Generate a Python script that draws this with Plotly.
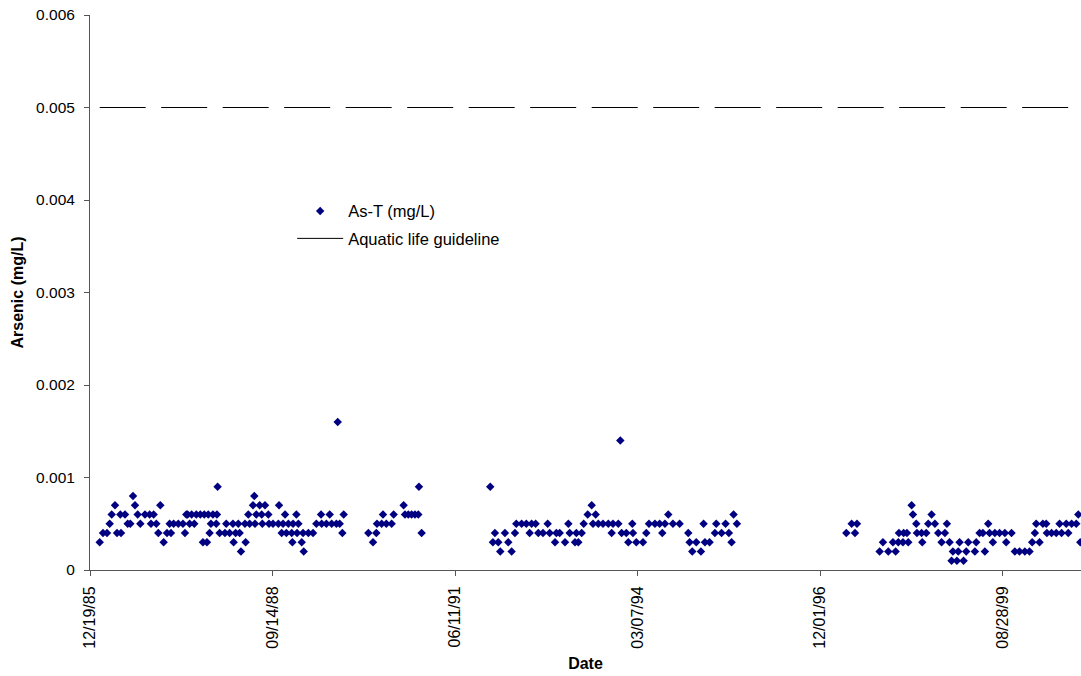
import datetime as dt
import plotly.graph_objects as go

# Total arsenic samples: sample date (decimal year) and concentration (mg/L)
sample_year = [
    # 1986 - 1989
    1986.11, 1986.16, 1986.22, 1986.26, 1986.29, 1986.34, 1986.37, 1986.42, 1986.43, 1986.49,
    1986.53, 1986.57, 1986.61, 1986.64, 1986.68, 1986.72, 1986.79, 1986.86, 1986.88, 1986.92,
    1986.96, 1986.99, 1987.02, 1987.07, 1987.12, 1987.16, 1987.18, 1987.22, 1987.29, 1987.36,
    1987.39, 1987.41, 1987.43, 1987.46, 1987.49, 1987.53, 1987.56, 1987.62, 1987.66, 1987.68,
    1987.72, 1987.74, 1987.76, 1987.78, 1987.81, 1987.86, 1987.87, 1987.88, 1987.91, 1987.99,
    1988.01, 1988.06, 1988.11, 1988.12, 1988.15, 1988.19, 1988.21, 1988.23, 1988.29, 1988.30,
    1988.34, 1988.36, 1988.41, 1988.43, 1988.44, 1988.46, 1988.51, 1988.54, 1988.55, 1988.59,
    1988.64, 1988.65, 1988.71, 1988.79, 1988.80, 1988.84, 1988.86, 1988.89, 1988.91, 1988.94,
    1988.99, 1989.00, 1989.01, 1989.06, 1989.07, 1989.09, 1989.14, 1989.16, 1989.17, 1989.24,
    1989.31, 1989.36, 1989.43, 1989.44, 1989.51, 1989.56, 1989.59, 1989.66, 1989.68, 1989.71,
    1989.75, 1989.77,
    # 1990
    1990.14, 1990.21, 1990.26, 1990.27, 1990.34, 1990.36, 1990.41, 1990.49, 1990.52, 1990.67,
    1990.69, 1990.74, 1990.79, 1990.84, 1990.89, 1990.90, 1990.94,
    # 1992 - 1995
    1991.97, 1992.01, 1992.04, 1992.09, 1992.12, 1992.19, 1992.24, 1992.29, 1992.34, 1992.36,
    1992.44, 1992.51, 1992.56, 1992.59, 1992.65, 1992.69, 1992.76, 1992.83, 1992.86, 1992.94,
    1992.96, 1993.01, 1993.09, 1993.14, 1993.16, 1993.24, 1993.26, 1993.29, 1993.34, 1993.37,
    1993.43, 1993.49, 1993.51, 1993.55, 1993.59, 1993.66, 1993.74, 1993.79, 1993.81, 1993.89,
    1993.92, 1993.94, 1994.01, 1994.04, 1994.10, 1994.11, 1994.16, 1994.26, 1994.31, 1994.35,
    1994.44, 1994.51, 1994.55, 1994.59, 1994.64, 1994.71, 1994.81, 1994.94, 1994.96, 1995.00,
    1995.06, 1995.13, 1995.17, 1995.19, 1995.26, 1995.34, 1995.36, 1995.44, 1995.50, 1995.55,
    1995.59, 1995.62, 1995.67,
    # 1997 - 2000
    1997.31, 1997.39, 1997.44, 1997.47,
    1997.81, 1997.86, 1997.94, 1998.01, 1998.05, 1998.09, 1998.10, 1998.16, 1998.17, 1998.22,
    1998.24, 1998.29, 1998.31, 1998.36, 1998.37, 1998.44, 1998.45, 1998.51, 1998.54, 1998.59,
    1998.64, 1998.69, 1998.74, 1998.79, 1998.82, 1998.86, 1998.89, 1998.91, 1998.97, 1998.99,
    1999.01, 1999.07, 1999.11, 1999.14, 1999.24, 1999.26, 1999.31, 1999.36, 1999.39, 1999.44,
    1999.46, 1999.51, 1999.54, 1999.61, 1999.69, 1999.71, 1999.79, 1999.84, 1999.91, 1999.99,
    2000.06, 2000.10, 2000.14, 2000.16, 2000.21, 2000.26, 2000.31, 2000.32, 2000.39, 2000.46,
    2000.51, 2000.54, 2000.61, 2000.64, 2000.69, 2000.76, 2000.79, 2000.82,
]

as_t = [
    # 1986 - 1989
    0.0003, 0.0004, 0.0004, 0.0005, 0.0006, 0.0007, 0.0004, 0.0006, 0.0004, 0.0006,
    0.0005, 0.0005, 0.0008, 0.0007, 0.0006, 0.0005, 0.0006, 0.0006, 0.0005, 0.0006,
    0.0005, 0.0004, 0.0007, 0.0003, 0.0004, 0.0005, 0.0004, 0.0005, 0.0005, 0.0005,
    0.0004, 0.0006, 0.0006, 0.0005, 0.0006, 0.0005, 0.0006, 0.0006, 0.0003, 0.0006,
    0.0003, 0.0006, 0.0004, 0.0005, 0.0006, 0.0005, 0.0006, 0.0009, 0.0004, 0.0004,
    0.0005, 0.0004, 0.0005, 0.0003, 0.0004, 0.0005, 0.0004, 0.0002, 0.0005, 0.0003,
    0.0006, 0.0005, 0.0007, 0.0008, 0.0005, 0.0006, 0.0007, 0.0006, 0.0005, 0.0007,
    0.0006, 0.0005, 0.0005, 0.0005, 0.0007, 0.0004, 0.0005, 0.0006, 0.0004, 0.0005,
    0.0004, 0.0003, 0.0005, 0.0006, 0.0004, 0.0005, 0.0003, 0.0004, 0.0002, 0.0004,
    0.0004, 0.0005, 0.0006, 0.0005, 0.0005, 0.0006, 0.0005, 0.0005, 0.0016, 0.0005,
    0.0004, 0.0006,
    # 1990
    0.0004, 0.0003, 0.0004, 0.0005, 0.0005, 0.0006, 0.0005, 0.0005, 0.0006, 0.0007,
    0.0006, 0.0006, 0.0006, 0.0006, 0.0006, 0.0009, 0.0004,
    # 1992 - 1995
    0.0009, 0.0003, 0.0004, 0.0003, 0.0002, 0.0004, 0.0003, 0.0002, 0.0004, 0.0005,
    0.0005, 0.0005, 0.0004, 0.0005, 0.0005, 0.0004, 0.0004, 0.0005, 0.0004, 0.0003,
    0.0004, 0.0004, 0.0003, 0.0005, 0.0004, 0.0003, 0.0004, 0.0003, 0.0004, 0.0005,
    0.0006, 0.0007, 0.0005, 0.0006, 0.0005, 0.0005, 0.0005, 0.0004, 0.0005, 0.0005,
    0.0014, 0.0004, 0.0004, 0.0003, 0.0005, 0.0004, 0.0003, 0.0003, 0.0004, 0.0005,
    0.0005, 0.0005, 0.0004, 0.0005, 0.0006, 0.0005, 0.0005, 0.0004, 0.0003, 0.0002,
    0.0003, 0.0002, 0.0005, 0.0003, 0.0003, 0.0004, 0.0005, 0.0004, 0.0005, 0.0004,
    0.0003, 0.0006, 0.0005,
    # 1997 - 2000
    0.0004, 0.0005, 0.0004, 0.0005,
    0.0002, 0.0003, 0.0002, 0.0003, 0.0002, 0.0003, 0.0004, 0.0003, 0.0004, 0.0004,
    0.0003, 0.0007, 0.0006, 0.0005, 0.0004, 0.0004, 0.0003, 0.0004, 0.0005, 0.0006,
    0.0005, 0.0004, 0.0003, 0.0004, 0.0005, 0.0003, 0.0001, 0.0002, 0.0001, 0.0002,
    0.0003, 0.0001, 0.0002, 0.0003, 0.0002, 0.0003, 0.0004, 0.0004, 0.0002, 0.0005,
    0.0004, 0.0003, 0.0004, 0.0004, 0.0004, 0.0003, 0.0004, 0.0002, 0.0002, 0.0002,
    0.0002, 0.0003, 0.0004, 0.0005, 0.0003, 0.0005, 0.0005, 0.0004, 0.0004, 0.0004,
    0.0005, 0.0004, 0.0005, 0.0004, 0.0005, 0.0005, 0.0006, 0.0003,
]

guideline_mg_l = 0.005
axis_start = "1985-12-19"
axis_end = "2000-10-31"


def year_to_date(y):
    """Convert a decimal year into a calendar datetime."""
    year = int(y)
    start = dt.datetime(year, 1, 1)
    length = (dt.datetime(year + 1, 1, 1) - start).days
    return start + dt.timedelta(days=(y - year) * length)


sample_dates = [year_to_date(y) for y in sample_year]

FONT = "Liberation Sans, Arial, sans-serif"
AXIS_GREY = "#555555"

fig = go.Figure()

fig.add_trace(go.Scatter(
    x=sample_dates,
    y=as_t,
    mode="markers",
    name="As-T (mg/L)",
    legendgroup="samples",
    marker=dict(symbol="diamond", size=6.5, color="#000080",
                line=dict(width=0)),
))

fig.add_trace(go.Scatter(
    x=[sample_dates[0], sample_dates[-1]],
    y=[guideline_mg_l, guideline_mg_l],
    mode="lines",
    name="Aquatic life guideline",
    legendgroup="guideline",
    line=dict(color="#000000", width=1, dash="46px,15.5px"),
))

fig.update_layout(
    width=1081,
    height=676,
    margin=dict(l=90, r=0, t=15, b=106),
    paper_bgcolor="white",
    plot_bgcolor="white",
    font=dict(family=FONT, size=16, color="#000000"),
    showlegend=True,
    legend=dict(
        x=0.204, y=0.678, xanchor="left", yanchor="top",
        bgcolor="rgba(0,0,0,0)", borderwidth=0,
        itemwidth=46, tracegroupgap=3,
        font=dict(family=FONT, size=16.5, color="#000000"),
    ),
    xaxis=dict(
        type="date",
        range=[axis_start, axis_end],
        tick0=axis_start,
        dtick=1000 * 86400000,
        tickformat="%m/%d/%y",
        tickangle=-90,
        tickfont=dict(family=FONT, size=16),
        ticks="outside",
        ticklen=5,
        tickcolor=AXIS_GREY,
        ticklabelstandoff=4,
        showline=True,
        linecolor=AXIS_GREY,
        linewidth=1,
        showgrid=False,
        zeroline=False,
        title=dict(text="<b>Date</b>", standoff=10,
                   font=dict(family=FONT, size=16)),
    ),
    yaxis=dict(
        range=[0, 0.006],
        dtick=0.001,
        tick0=0,
        tickfont=dict(family=FONT, size=15.5),
        ticks="outside",
        ticklen=5,
        tickcolor=AXIS_GREY,
        ticklabelstandoff=6,
        showline=True,
        linecolor=AXIS_GREY,
        linewidth=1,
        showgrid=False,
        zeroline=False,
        title=dict(text="<b>Arsenic (mg/L)</b>", standoff=8,
                   font=dict(family=FONT, size=16)),
    ),
)

fig.write_html("out.html")
